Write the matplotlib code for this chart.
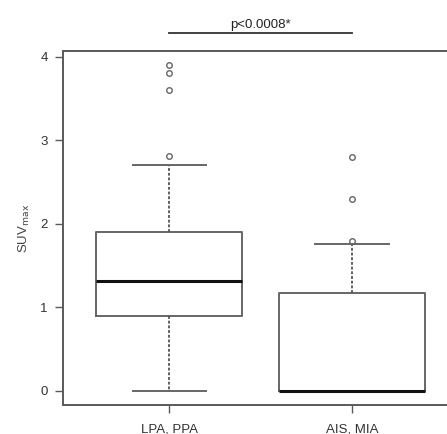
import matplotlib
matplotlib.use('Agg')
import matplotlib.pyplot as plt

# group labels and box statistics
groups = ['LPA, PPA', 'AIS, MIA']
q1 = [0.9, 0.0]
median = [1.31, 0.0]
q3 = [1.9, 1.17]
whisk_lo = [0.0, 0.0]
whisk_hi = [2.71, 1.76]
outliers = [[3.9, 3.81, 3.6, 2.81], [2.8, 2.3, 1.79]]
p_text = 'p<0.0008*'

plt.rcParams['font.family'] = ['Liberation Sans', 'DejaVu Sans']
grey = '#5a5a5a'

fig = plt.figure(figsize=(4.47, 4.34), dpi=100)
ax = fig.add_axes([0.141, 0.0668, 0.8836, 0.8157])

stats = []
for i in range(len(groups)):
    stats.append(dict(label=groups[i], q1=q1[i], med=median[i], q3=q3[i],
                      whislo=whisk_lo[i], whishi=whisk_hi[i], fliers=outliers[i]))

ax.bxp(stats, positions=[1, 2], widths=0.8,
       boxprops=dict(color='#666666', linewidth=1.4),
       medianprops=dict(color='#111111', linewidth=2.2),
       whiskerprops=dict(color='#555555', linewidth=1.3, linestyle=(0, (1.6, 1.0))),
       capprops=dict(color='#666666', linewidth=1.4),
       capwidths=0.4,
       flierprops=dict(marker='o', markersize=4, markerfacecolor='none',
                       markeredgecolor='#666666', markeredgewidth=1.0))

ax.set_xlim(0.42, 2.58)
ax.set_ylim(-0.17, 4.07)
ax.set_yticks([0, 1, 2, 3, 4])
ax.set_xticks([1, 2])
ax.set_xticklabels(groups)
ax.tick_params(axis='both', colors=grey, labelcolor='#333333', labelsize=9.5,
               length=6, width=1.0)
ax.tick_params(axis='x', pad=7)
ax.tick_params(axis='y', pad=5)
for s in ax.spines.values():
    s.set_color(grey)
    s.set_linewidth(1.4)

ax.set_ylabel(r'SUV$_{\mathrm{max}}$', fontsize=9.5, color='#444444', labelpad=6)

# significance bar above the plot
ax.plot([1, 2], [4.29, 4.29], color='#333333', linewidth=1.3, clip_on=False)
ax.text(1.5, 4.31, p_text, ha='center', va='bottom', fontsize=9.5, color='#222222')

fig.savefig('out.png', dpi=100)
